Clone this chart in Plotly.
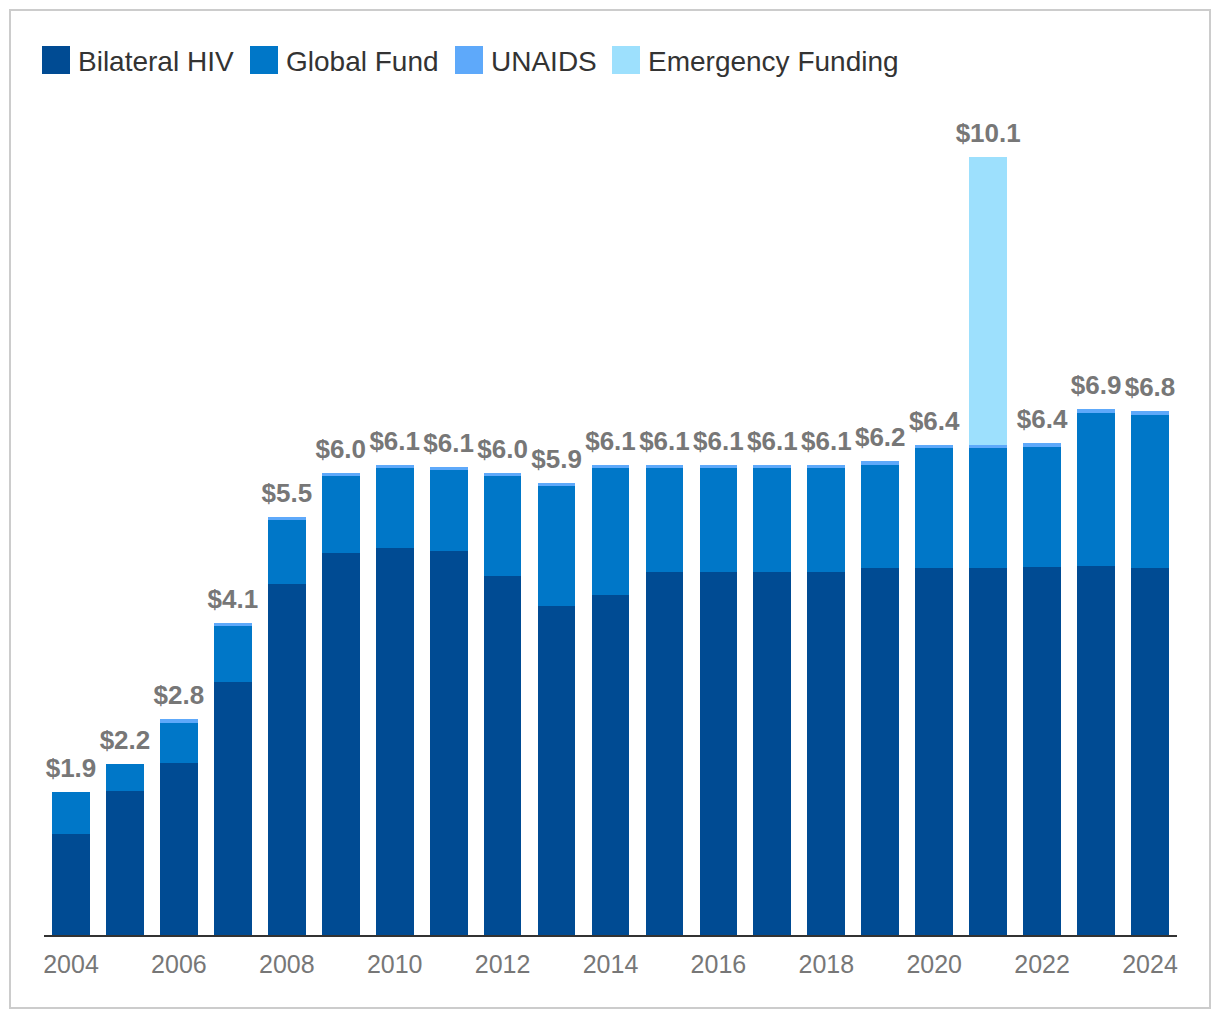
import plotly.graph_objects as go

years = list(range(2004, 2025))
bilateral = [1.31, 1.87, 2.23, 3.29, 4.56, 4.96, 5.03, 4.99, 4.66, 4.27, 4.42,
             4.71, 4.71, 4.71, 4.71, 4.77, 4.77, 4.77, 4.78, 4.79, 4.77]
global_fund = [0.55, 0.35, 0.53, 0.73, 0.83, 1.00, 1.04, 1.05, 1.30, 1.56, 1.65,
               1.35, 1.35, 1.35, 1.35, 1.34, 1.55, 1.55, 1.56, 1.99, 1.99]
unaids = [0.0, 0.0, 0.04, 0.03, 0.04, 0.04, 0.04, 0.04, 0.04, 0.04, 0.04,
          0.04, 0.04, 0.04, 0.04, 0.05, 0.05, 0.05, 0.05, 0.05, 0.05]
emergency = [0, 0, 0, 0, 0, 0, 0, 0, 0, 0, 0,
             0, 0, 0, 0, 0, 0, 3.74, 0, 0, 0]
total_labels = [1.9, 2.2, 2.8, 4.1, 5.5, 6.0, 6.1, 6.1, 6.0, 5.9, 6.1,
                6.1, 6.1, 6.1, 6.1, 6.2, 6.4, 10.1, 6.4, 6.9, 6.8]
tick_years = list(range(2004, 2025, 2))

series_names = ["Bilateral HIV", "Global Fund", "UNAIDS", "Emergency Funding"]
colors = ["#004B93", "#0077C8", "#5EA9FA", "#9DE0FD"]
series = [bilateral, global_fund, unaids, emergency]

FONT = "Arial, Liberation Sans, sans-serif"

# page-pixel helpers (page origin offset 8px by body margin)
L, R, T, B = 36, 35, 111, 77
W, H = 1204, 1004
PW = W - L - R
PH = H - T - B
OFF = 8


def px(x):
    return (x - OFF - L) / PW


def py(y):
    return (H - B - (y - OFF)) / PH


fig = go.Figure()
for name, vals, col in zip(series_names, series, colors):
    fig.add_trace(go.Bar(x=years, y=vals, name=name, marker_color=col,
                         marker_line_width=0, hoverinfo="skip"))

totals = [a + b + c + d for a, b, c, d in zip(bilateral, global_fund, unaids, emergency)]
fig.add_trace(go.Scatter(
    x=years, y=totals, mode="markers+text",
    marker=dict(size=12, color="rgba(0,0,0,0)"),
    text=[f"<b>${v:.1f}</b>" for v in total_labels],
    textposition="top center",
    textfont=dict(family=FONT, size=26, color="#777777"),
    cliponaxis=False, hoverinfo="skip", showlegend=False))

shapes = [dict(type="rect", xref="paper", yref="paper",
               x0=px(10), x1=px(1210), y0=py(1008), y1=py(10),
               line=dict(color="#CCCCCC", width=2), fillcolor="rgba(0,0,0,0)")]
annotations = []
leg_x = [42, 250, 455, 612]
for name, col, x0 in zip(series_names, colors, leg_x):
    shapes.append(dict(type="rect", xref="paper", yref="paper",
                       x0=px(x0), x1=px(x0 + 28), y0=py(74), y1=py(46),
                       fillcolor=col, line=dict(width=0)))
    annotations.append(dict(xref="paper", yref="paper", x=px(x0 + 34), y=py(61),
                            text=name, showarrow=False, xanchor="left",
                            yanchor="middle",
                            font=dict(family=FONT, size=28, color="#333333")))

fig.update_layout(
    width=W, height=H,
    margin=dict(l=L, r=R, t=T, b=B),
    barmode="stack", bargap=0.3,
    plot_bgcolor="white", paper_bgcolor="white",
    showlegend=False,
    shapes=shapes, annotations=annotations,
    xaxis=dict(range=[2003.5, 2024.5], tickvals=tick_years,
               ticktext=[str(y) for y in tick_years],
               showgrid=False, zeroline=False, showline=True,
               linecolor="#333333", linewidth=2, ticks="",
               ticklabelstandoff=6,
               tickfont=dict(family=FONT, size=25, color="#777777")),
    yaxis=dict(range=[0, 10.6], visible=False, showgrid=False, zeroline=False),
)

fig.write_html("out.html")
